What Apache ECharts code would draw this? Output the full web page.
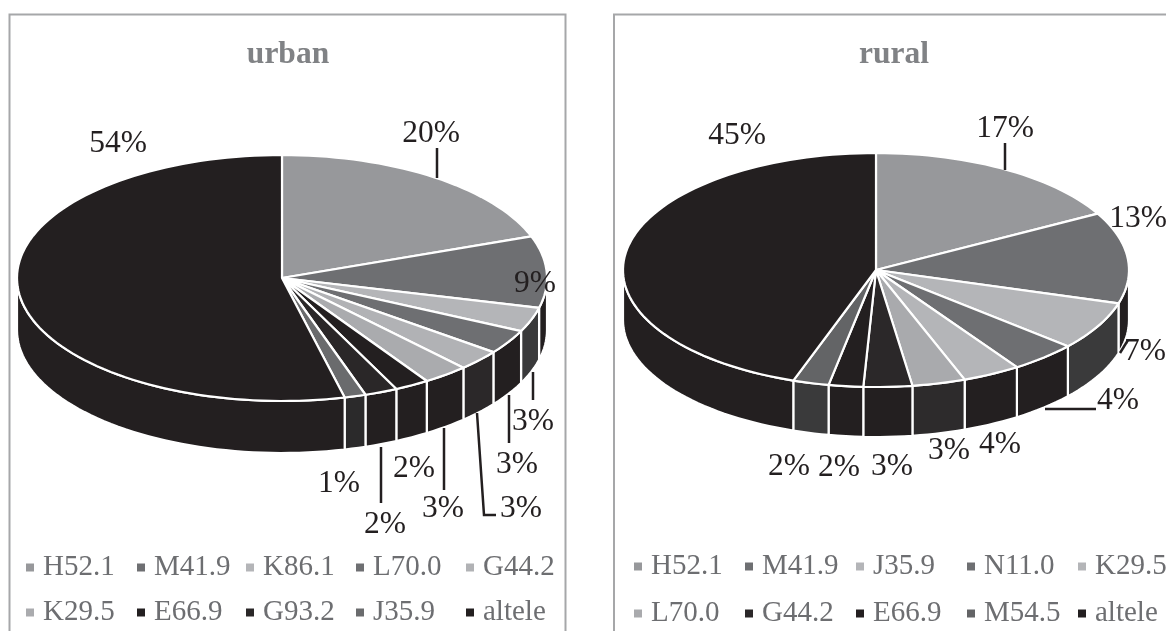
<!DOCTYPE html>
<html><head><meta charset="utf-8">
<script src="https://cdn.jsdelivr.net/npm/echarts@6/dist/echarts.min.js"></script>
<style>html,body{margin:0;padding:0;background:#fff;overflow:hidden}#c{width:1166px;height:631px}</style>
</head><body><div id="c"></div>
<script>
// ---- data ----
const urbanNames  = ['H52.1','M41.9','K86.1','L70.0','G44.2','K29.5','E66.9','G93.2','J35.9','altele'];
const urbanValues = [19.5,9.4,3.2,3.2,2.7,2.8,2.1,2.0,1.3,53.8];
const urbanTop    = ['#97989b','#6e6f72','#b4b5b8','#6e6f72','#b1b2b5','#aaabae','#231f20','#2a2728','#6a6b6d','#231f20'];
const urbanSide   = ['#231f20','#231f20','#3a3a3b','#231f20','#2b2829','#231f20','#231f20','#231f20','#2b2a2b','#231f20'];

const ruralNames  = ['H52.1','M41.9','J35.9','N11.0','K29.5','L70.0','G44.2','E66.9','M54.5','altele'];
const ruralValues = [17,12.6,6.7,4.3,3.7,3.4,3.1,2.2,2.3,44.7];
const ruralTop    = ['#97989b','#6e6f72','#b4b5b8','#6e6f72','#b4b5b8','#a9aaad','#2b2829','#231f20','#636466','#231f20'];
const ruralSide   = ['#231f20','#231f20','#3a3a3b','#231f20','#231f20','#2d2b2c','#231f20','#231f20','#3a3a3b','#231f20'];

// ---- layout ----
const urbanPie = {cx:282, cy:278, rx:265, ry:123, depth:52};
const ruralPie = {cx:876, cy:270, rx:253, ry:117, depth:50};
const urbanLabelAt = [[431,134],[535,284],[533,422],[517,465],[521,509],[443,509],[414,469],[385,525],[339,484],[118,144]];
const ruralLabelAt = [[1005,129],[1138,219],[1145,352],[1118,401],[1000,445],[949,451],[892,467],[839,468],[789,467],[737,136]];
const urbanLeaders = [[[437,148],[437,178]],null,[[533,372],[533,400]],[[509,395],[509,443]],[[477,413],[484,515],[496,515]],[[444,428],[444,490]],null,[[381,447],[381,503]],null,null];
const ruralLeaders = [[[1005,143],[1005,170]],null,[[1120,353],[1128,340]],[[1045,409],[1096,409]],null,null,null,null,null,null];
const urbanLegendAt = [[26,568],[137,568],[246,568],[356,568],[466,568],[26,613],[137,613],[246,613],[356,613],[466,613]];
const ruralLegendAt = [[634,567],[745,567],[856,567],[967,567],[1078,567],[634,614],[745,614],[856,614],[967,614],[1078,614]];
const labelFont = '31.5px "Liberation Serif"';
const STEP = Math.PI/90;

function ellipsePoint(p, a, dz){
  return [p.cx + p.rx*Math.sin(a), p.cy - p.ry*Math.cos(a) + (dz||0)];
}
function arcPoints(p, a0, a1, dz){
  const n = Math.max(2, Math.ceil((a1-a0)/STEP)), pts = [];
  for(let i=0;i<=n;i++) pts.push(ellipsePoint(p, a0+(a1-a0)*i/n, dz));
  return pts;
}
function makeSeries(pie, names, values, topC, sideC, labelAt, leaders, prefix){
  const total = values.reduce((s,v)=>s+v,0);
  return names.map((name,i)=>{
    return {
      type:'custom', name:name, id:prefix+name, coordinateSystem:'none', silent:true,
      data:[[values[i]]], animation:false, itemStyle:{color:topC[i]},
      renderItem:function(params, api){
        let before = 0; for(let k=0;k<i;k++) before += values[k];
        const a0 = before/total*2*Math.PI, a1 = (before+api.value(0))/total*2*Math.PI;
        const kids = [];
        // front wall: visible only in the lower half of the ellipse
        const s0 = Math.max(a0, Math.PI/2), s1 = Math.min(a1, 3*Math.PI/2);
        if(s1 > s0){
          const up = arcPoints(pie, s0, s1, 0), low = arcPoints(pie, s0, s1, pie.depth).reverse();
          kids.push({type:'polygon', z2:1, shape:{points:up.concat(low)},
            style:{fill:sideC[i], stroke:'#fff', lineWidth:2.2, lineJoin:'round'}});
        }
        // top face
        kids.push({type:'polygon', z2:2, shape:{points:[[pie.cx,pie.cy]].concat(arcPoints(pie,a0,a1,0))},
          style:{fill:topC[i], stroke:'#fff', lineWidth:2.2, lineJoin:'round'}});
        if(leaders[i]) kids.push({type:'polyline', z2:3, shape:{points:leaders[i]},
          style:{fill:null, stroke:'#231f20', lineWidth:2.5}});
        kids.push({type:'text', z2:4, x:labelAt[i][0], y:labelAt[i][1],
          style:{text:Math.round(api.value(0))+'%', fill:'#231f20', font:labelFont, align:'center', verticalAlign:'middle'}});
        return {type:'group', children:kids};
      }
    };
  });
}
function makeLegends(names, colors, at){
  return names.map((n,i)=>({
    show:true, orient:'horizontal', left:at[i][0], top:at[i][1]-15, padding:0, itemGap:0,
    itemWidth:8, itemHeight:8, icon:'rect', selectedMode:false,
    data:[{name:n, itemStyle:{color:colors[i]}}],
    textStyle:{fontFamily:'Liberation Serif', fontSize:29, color:'#6d6e71', padding:[0,0,0,4]}
  }));
}
const option = {
  animation:false, backgroundColor:'#fff',
  title:[
    {text:'urban', left:288, top:55, textAlign:'center', padding:0, textVerticalAlign:'middle', textStyle:{fontFamily:'Liberation Serif', fontWeight:'bold', fontSize:31.5, color:'#808285'}},
    {text:'rural', left:894, top:55, textAlign:'center', padding:0, textVerticalAlign:'middle', textStyle:{fontFamily:'Liberation Serif', fontWeight:'bold', fontSize:31.5, color:'#808285'}}
  ],
  legend: makeLegends(urbanNames, urbanTop, urbanLegendAt).concat(makeLegends(ruralNames, ruralTop, ruralLegendAt)),
  graphic:[
    {type:'rect', silent:true, z:-1, shape:{x:9.5,y:14.5,width:556,height:640}, style:{fill:'#fff', stroke:'#a6a7a9', lineWidth:2}},
    {type:'rect', silent:true, z:-1, shape:{x:614,y:14.5,width:600,height:640}, style:{fill:'#fff', stroke:'#a6a7a9', lineWidth:2}}
  ],
  series: makeSeries(urbanPie, urbanNames, urbanValues, urbanTop, urbanSide, urbanLabelAt, urbanLeaders, 'u')
    .concat(makeSeries(ruralPie, ruralNames, ruralValues, ruralTop, ruralSide, ruralLabelAt, ruralLeaders, 'r'))
};
echarts.init(document.getElementById('c')).setOption(option);
</script></body></html>
